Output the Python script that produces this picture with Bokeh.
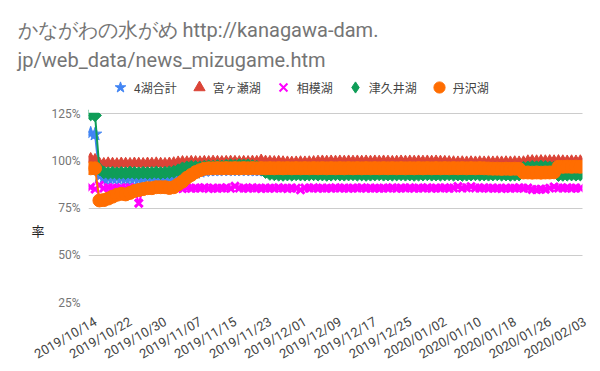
import math
import pandas as pd
from bokeh.plotting import figure
from bokeh.models import (ColumnDataSource, Legend, LegendItem, FixedTicker,
                          Range1d, Title, LinearAxis, BoxAnnotation)
from bokeh.embed import file_html
from bokeh.resources import INLINE

# ---------------- data ----------------
start_date = "2019-10-14"
end_date = "2020-02-03"
dates = [d.strftime("%Y/%m/%d") for d in pd.date_range(start_date, end_date, freq="D")]
tick_step = 8
tick_labels = dates[::tick_step]

series_names = ["4湖合計", "宮ヶ瀬湖", "相模湖", "津久井湖", "丹沢湖"]

total_4 = [
    114.5, 114.0, 92.0, 90.5, 90.8, 90.6, 90.9, 90.7, 90.5, 90.8,
    90.6, 90.4, 90.7, 90.9, 91.0, 90.8, 91.0, 90.9, 90.8, 91.0,
    91.3, 91.8, 92.5, 93.2, 93.8, 94.3, 94.7, 95.0, 95.1, 95.1,
    95.2, 95.3, 95.2, 95.1, 95.2, 95.3, 95.2, 95.1, 95.0, 95.0,
    94.9, 94.9, 95.0, 94.9, 94.8, 94.9, 95.0, 94.9, 94.9, 95.0,
    95.0, 94.9, 95.0, 95.1, 95.0, 94.9, 95.0, 95.1, 95.0, 95.0,
    95.1, 95.0, 95.0, 95.1, 95.2, 95.1, 95.0, 95.1, 95.2, 95.1,
    95.1, 95.0, 95.1, 95.2, 95.1, 95.0, 95.1, 95.2, 95.1, 95.0,
    95.0, 95.1, 95.0, 94.9, 95.0, 95.1, 95.0, 94.9, 95.0, 95.0,
    94.9, 95.0, 95.0, 94.9, 95.0, 95.0, 94.9, 94.8, 94.8, 94.6,
    94.5, 94.5, 94.6, 94.5, 94.6, 94.5, 94.6, 95.3, 95.4, 95.4,
    95.5, 95.4, 95.5,
]
miyagase = [
    101.0, 100.5, 98.6, 98.4, 98.7, 98.5, 98.3, 98.6, 98.5, 98.4,
    98.6, 98.5, 98.4, 98.6, 98.5, 98.7, 98.5, 98.4, 98.6, 98.8,
    99.2, 99.4, 99.3, 99.5, 99.4, 99.3, 99.5, 99.4, 99.6, 99.5,
    99.4, 99.5, 99.6, 99.5, 99.4, 99.5, 99.4, 99.6, 99.5, 100.2,
    99.6, 99.5, 99.4, 99.5, 99.3, 99.2, 99.1, 99.2, 99.3, 99.2,
    99.3, 99.4, 99.6, 99.7, 99.6, 99.7, 99.6, 99.7, 99.6, 99.7,
    99.6, 99.7, 99.6, 99.7, 99.6, 99.7, 99.6, 99.7, 99.6, 99.5,
    99.6, 99.7, 99.6, 99.7, 99.6, 99.7, 99.6, 99.7, 99.6, 99.7,
    99.6, 99.5, 99.4, 99.3, 99.2, 99.3, 99.2, 99.3, 99.2, 99.3,
    99.2, 99.3, 99.2, 99.3, 99.2, 99.3, 99.2, 99.3, 99.2, 99.3,
    99.8, 99.9, 99.8, 99.9, 99.8, 99.9, 99.8, 99.9, 99.8, 99.7,
    99.8, 99.7, 99.8,
]
sagami = [
    86.0, 85.0, 87.0, 85.5, 85.8, 85.6, 85.4, 85.7, 85.5, 85.8,
    85.6, 77.5, 85.4, 85.7, 85.5, 85.8, 85.6, 85.4, 85.9, 85.5,
    85.6, 85.3, 85.7, 85.4, 85.6, 85.5, 85.8, 85.3, 85.6, 85.4,
    85.5, 85.7, 85.4, 86.5, 85.5, 85.6, 85.4, 85.7, 85.5, 85.3,
    85.6, 85.5, 85.4, 85.7, 85.5, 85.3, 85.6, 85.5, 84.6, 85.6,
    85.5, 85.7, 85.4, 85.6, 85.5, 85.4, 85.7, 85.5, 85.6, 85.4,
    85.6, 85.5, 85.7, 85.4, 85.6, 85.5, 85.4, 85.6, 85.5, 85.7,
    85.4, 85.6, 85.5, 85.7, 85.4, 85.6, 85.5, 85.7, 85.4, 85.6,
    85.5, 85.7, 85.4, 85.6, 86.4, 85.5, 85.7, 86.3, 85.6, 85.5,
    85.7, 85.4, 85.6, 85.5, 85.3, 85.6, 85.4, 85.5, 85.7, 85.4,
    85.6, 84.8, 84.7, 85.0, 84.9, 85.5, 86.2, 85.6, 85.5, 85.7,
    85.4, 85.6, 85.5,
]
tsukui = [
    124.5, 124.0, 95.5, 93.8, 93.5, 93.7, 93.4, 93.6, 93.5, 93.8,
    93.6, 93.4, 93.7, 93.5, 93.6, 93.8, 93.5, 93.7, 93.9, 94.2,
    95.0, 96.0, 96.5, 96.8, 96.7, 96.6, 96.9, 97.1, 96.9, 97.2,
    97.0, 97.4, 97.6, 97.3, 97.7, 97.5, 97.6, 97.2, 96.8, 95.5,
    94.0, 93.0, 92.8, 92.6, 92.5, 92.7, 92.6, 92.8, 92.7, 92.6,
    92.7, 92.8, 92.6, 92.7, 92.5, 92.6, 92.8, 92.7, 92.6, 92.7,
    92.8, 92.6, 92.7, 92.5, 92.6, 92.7, 92.8, 92.6, 92.7, 92.6,
    92.7, 92.8, 92.6, 92.7, 92.5, 92.6, 92.7, 92.8, 92.6, 92.7,
    92.6, 92.7, 92.8, 92.6, 92.7, 92.5, 92.6, 92.7, 92.8, 92.6,
    92.7, 92.6, 92.7, 92.8, 92.6, 92.7, 92.5, 92.6, 92.7, 96.3,
    96.5, 96.8, 96.6, 96.9, 96.7, 96.5, 96.4, 92.4, 92.5, 92.6,
    92.7, 92.6, 92.7,
]
tanzawa = [
    96.0, 96.0, 79.0, 79.2, 80.0, 81.0, 82.0, 82.5, 82.2, 83.0,
    84.0, 84.5, 85.0, 85.5, 85.5, 86.0, 86.0, 86.0, 85.6, 86.0,
    87.5, 89.0, 91.0, 92.5, 94.0, 95.0, 95.8, 96.0, 96.0, 96.1,
    96.0, 96.1, 96.0, 96.1, 96.0, 96.1, 96.0, 96.1, 96.0, 96.1,
    96.0, 96.1, 96.0, 96.1, 96.0, 96.1, 96.0, 96.1, 96.0, 96.1,
    96.0, 96.1, 96.0, 96.1, 96.0, 96.1, 96.0, 96.1, 96.0, 96.1,
    96.0, 96.1, 96.0, 96.1, 96.0, 96.1, 96.0, 96.1, 96.0, 96.1,
    96.0, 96.1, 96.0, 96.1, 96.0, 96.1, 96.0, 96.1, 96.0, 96.1,
    96.0, 96.1, 96.0, 96.1, 96.0, 96.1, 96.0, 96.1, 96.0, 96.1,
    96.0, 95.9, 95.8, 95.8, 95.7, 95.8, 95.7, 95.8, 95.7, 93.8,
    93.8, 93.7, 93.8, 93.7, 93.8, 93.8, 93.9, 96.8, 96.8, 96.9,
    96.8, 96.9, 96.8,
]
y_min, y_max = 25, 125
y_ticks = [25, 50, 75, 100, 125]
y_tick_labels = ["25%", "50%", "75%", "100%", "125%"]

title_line1 = "かながわの水がめ http://kanagawa-dam."
title_line2 = "jp/web_data/news_mizugame.htm"
y_title = "率"

cfg = [
    ("total", "#4285F4", "star", 14, 0.0),
    ("miya", "#DB4437", "triangle", 11, 0.0),
    ("sagami", "#FF00FF", "x", 11, 0.0),
    ("tsukui", "#0F9D58", "square", 9, math.pi / 4),
    ("tanzawa", "#FF6D01", "circle", 13, 0.0),
]

# ---------------- layout geometry (pixels) ----------------
PLOT_W, PLOT_H = 494, 189          # data area (gridlines) in px
EXTRA_R, EXTRA_T = 11, 39          # frame extends right/up beyond data area
n = len(dates)
px_x = PLOT_W / n
px_y = PLOT_H / (y_max - y_min)
x_lo = -0.5
x_hi = x_lo + (PLOT_W + EXTRA_R) / px_x
y_hi = y_max + EXTRA_T / px_y

p = figure(frame_width=PLOT_W + EXTRA_R, frame_height=PLOT_H + EXTRA_T,
           min_border_left=88, min_border_right=0, min_border_top=74,
           min_border_bottom=61,
           output_backend="svg", toolbar_location=None,
           x_range=Range1d(x_lo, x_hi), y_range=Range1d(y_min, y_hi))
p.outline_line_color = None

x = list(range(n))
src = ColumnDataSource(dict(x=x, total=total_4, miya=miyagase, sagami=sagami,
                            tsukui=tsukui, tanzawa=tanzawa))

for (col, color, marker, size, ang) in cfg:
    p.line("x", col, source=src, line_color=color, line_width=2)
    lw = 3 if marker == "x" else 1
    p.scatter("x", col, source=src, marker=marker, size=size, angle=ang,
              fill_color=color, line_color=color, line_width=lw)

# white masks: clip marks to the data area like the original chart
p.add_layout(BoxAnnotation(left=n - 0.5, fill_color="white", fill_alpha=1,
                           line_color=None))
p.add_layout(BoxAnnotation(bottom=y_max + 0.7 / px_y, fill_color="white",
                           fill_alpha=1, line_color=None))

# legend (proxies lie outside the visible ranges)
legend_items = []
for (col, color, marker, size, ang), name in zip(cfg, series_names):
    lm = "diamond" if marker == "square" else marker
    proxy = p.scatter(x=[-10], y=[0], marker=lm, fill_color=color, line_color=color,
                      line_width=(2 if marker == "x" else 1))
    legend_items.append(LegendItem(label=name, renderers=[proxy]))
legend = Legend(items=legend_items, orientation="horizontal", location=(18, 201),
                glyph_width=28, glyph_height=28, label_standoff=0, spacing=8,
                padding=0, margin=0, border_line_color=None,
                background_fill_alpha=0,
                label_text_font="Noto Sans CJK JP", label_text_font_size="12px",
                label_text_color="#444444")
p.add_layout(legend, "center")

# x axis
tick_shift = 1.1
tick_pos = [i + tick_shift for i in x[::tick_step]]
p.xaxis.ticker = FixedTicker(ticks=tick_pos)
p.xaxis.major_label_overrides = {t: lab for t, lab in zip(tick_pos, tick_labels)}
p.xaxis.major_label_orientation = math.pi / 6
p.xaxis.axis_line_color = None
p.xaxis.major_tick_line_color = None
p.xaxis.minor_tick_line_color = None
p.xaxis.major_label_text_font = "Roboto"
p.xaxis.major_label_text_font_size = "13px"
p.xaxis.major_label_text_color = "#444444"
p.xaxis.major_label_standoff = 12

# y axis
p.yaxis.ticker = FixedTicker(ticks=y_ticks)
p.yaxis.major_label_overrides = {t: l for t, l in zip(y_ticks, y_tick_labels)}
p.yaxis.axis_line_color = None
p.yaxis.major_tick_line_color = None
p.yaxis.minor_tick_line_color = None
p.yaxis.major_label_text_font = "Roboto"
p.yaxis.major_label_text_font_size = "12px"
p.yaxis.major_label_text_color = "#757575"
p.yaxis.major_label_standoff = 2

ylab = LinearAxis(axis_label="\n" * 5 + y_title, ticker=FixedTicker(ticks=[]),
                  axis_line_color=None,
                  major_tick_line_color=None, minor_tick_line_color=None,
                  axis_label_orientation="horizontal", axis_label_standoff=4,
                  axis_label_text_font="Noto Sans CJK JP",
                  axis_label_text_font_size="13px",
                  axis_label_text_line_height=0.89,
                  axis_label_text_font_style="normal",
                  axis_label_text_color="#222222")
p.add_layout(ylab, "left")

p.xgrid.grid_line_color = None
p.ygrid.grid_line_color = "#cccccc"
p.ygrid.grid_line_width = 1

# title (two lines)
for txt, so in [(title_line2, 6), (title_line1, 2)]:
    p.add_layout(Title(text=txt, align="left", offset=-71, standoff=so,
                       text_font="Roboto", text_font_size="20px",
                       text_font_style="normal", text_color="#757575"), "above")

open("out.html", "w").write(file_html(p, INLINE))
